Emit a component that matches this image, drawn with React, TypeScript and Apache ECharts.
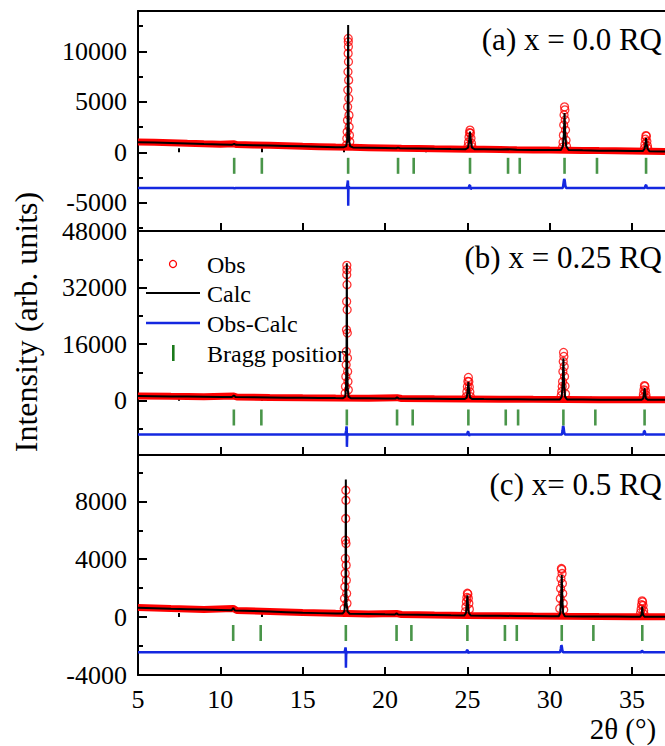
import React, { useEffect, useRef } from "react";
import * as echarts from "echarts";

// ---------- tick values ----------
const xMajorTicks = [5, 10, 15, 20, 25, 30, 35];
const xMinorTicks = [7.5, 12.5, 17.5, 22.5, 27.5, 32.5];
const yMajorA = [-5000, 0, 5000, 10000];
const yMinorA = [-7500, -2500, 2500, 7500, 12500];
const yMajorB = [0, 16000, 32000, 48000];
const yMinorB = [-8000, 8000, 24000, 40000];
const yMajorC = [-4000, 0, 4000, 8000];
const yMinorC = [-2000, 2000, 6000, 10000];

// ---------- panel labels ----------
const panelLabels = ["(a) x = 0.0 RQ", "(b) x = 0.25 RQ", "(c) x= 0.5 RQ"];
const legendNames = ["Obs", "Calc", "Obs-Calc", "Bragg position"];

// ---------- panel (a) x = 0.0 ----------
const obsBgA = [[5,1030],[6,990],[7,940],[8,885],[9,835],[10,790],[10.84,840],[11,760],[12,720],[13,685],[14,645],[15,600],[16,560],[17,520],[18,490],[19,460],[20,430],[21,400],[22,378],[23,350],[24,330],[25,310],[26,290],[27,270],[28,250],[29,235],[30,220],[31,208],[32,188],[33,165],[34,145],[35,125],[36,105],[37,85]];
const obsPkA = [[17.66,710],[17.68,1370],[17.70,2030],[17.72,3180],[17.73,4500],[17.74,6160],[17.75,7980],[17.76,9800],[17.765,11280],[17.77,10950],[17.775,10460],[17.78,8970],[17.79,7150],[17.80,5330],[17.81,3680],[17.82,2520],[17.84,1700],[17.86,1040],
  [25.04,600],[25.07,1000],[25.10,1500],[25.13,1950],[25.16,2200],[25.19,1900],[25.22,1400],[25.25,900],[25.28,550],
  [30.78,500],[30.81,1000],[30.83,1700],[30.85,2700],[30.87,3700],[30.90,4500],[30.92,4200],[30.94,3200],[30.96,2200],[30.99,1200],[31.02,600],
  [35.75,400],[35.78,800],[35.81,1300],[35.84,1650],[35.87,1600],[35.90,1100],[35.93,650],[35.96,350]];
const calcA = [[5,1000],[6,960],[7,910],[8,860],[9,810],[10,770],[10.7,740],[10.84,830],[10.95,735],[12,700],[13,670],[14,630],[15,590],[16,550],[17,510],[17.5,510],[17.64,600],[17.70,1100],[17.73,3000],[17.76,12600],[17.79,3000],[17.82,1100],[17.88,600],[18.05,480],[19,450],[20,420],[20.68,400],[20.79,460],[20.9,395],[22,370],[23,340],[24,320],[24.9,310],[25.04,450],[25.10,1000],[25.16,2050],[25.22,1000],[25.28,450],[25.45,300],[26,290],[27,270],[27.47,290],[28,250],[29,230],[30,220],[30.68,230],[30.80,600],[30.86,1800],[30.90,3900],[30.94,1800],[31.0,600],[31.15,220],[32,190],[33,160],[34,140],[35,120],[35.65,120],[35.76,350],[35.81,800],[35.85,1400],[35.89,800],[35.94,350],[36.05,110],[37,80]];
const diffA = [[5,-3530],[10.82,-3530],[10.86,-3620],[10.9,-3530],[17.68,-3530],[17.72,-3100],[17.745,-2800],[17.76,-3300],[17.765,-5300],[17.775,-3700],[17.80,-3400],[17.84,-3530],[25.08,-3530],[25.12,-3300],[25.16,-3250],[25.20,-3680],[25.24,-3530],[30.80,-3530],[30.85,-2900],[30.88,-2650],[30.91,-2750],[30.95,-3300],[30.99,-3530],[35.78,-3530],[35.82,-3280],[35.86,-3250],[35.90,-3530],[37,-3530]];
const braggA = [10.84, 12.52, 17.76, 20.79, 21.74, 25.16, 27.47, 28.18, 30.90, 32.87, 35.85];
const braggLevelA = -1340;

// ---------- panel (b) x = 0.25 ----------
const obsBgB = [[5,1400],[7,1280],[9,1170],[10.82,1350],[11,1080],[13,960],[15,870],[17,790],[19,720],[20.73,900],[21,660],[23,580],[25,530],[27,470],[29,420],[31,380],[33,340],[35,310],[37,290]];
const obsPkB = [[17.58,2170],[17.60,4050],[17.62,6890],[17.64,10190],[17.65,13950],[17.66,20090],[17.67,28100],[17.675,35660],[17.68,38290],[17.685,37070],[17.69,32830],[17.70,25750],[17.71,19150],[17.72,12080],[17.73,8300],[17.75,5470],[17.77,3110],
  [24.94,1200],[24.97,2600],[25.00,4000],[25.03,5500],[25.06,6600],[25.09,5400],[25.12,3900],[25.15,2500],[25.18,1200],
  [30.70,1500],[30.73,2630],[30.76,4050],[30.78,5460],[30.80,8290],[30.82,11120],[30.84,13670],[30.86,12540],[30.88,9710],[30.90,6880],[30.93,4200],[30.96,2000],
  [35.66,900],[35.69,1900],[35.72,3100],[35.75,4300],[35.78,4100],[35.81,2900],[35.84,1700],[35.87,800]];
const calcB = [[5,1350],[6,1300],[7,1250],[8,1200],[9,1150],[10,1100],[10.7,1080],[10.82,1500],[10.94,1060],[12,1000],[13,950],[14,900],[15,860],[16,820],[17,780],[17.45,770],[17.58,1200],[17.63,3500],[17.66,12000],[17.68,38900],[17.70,12000],[17.73,3500],[17.78,1200],[17.92,760],[19,710],[20,670],[20.62,650],[20.73,1000],[20.84,640],[22,600],[23,570],[24,540],[24.85,520],[24.96,900],[25.01,2500],[25.06,5400],[25.11,2500],[25.16,900],[25.3,520],[26,490],[27,460],[28,440],[29,410],[30,390],[30.62,380],[30.73,1200],[30.79,5000],[30.83,12000],[30.87,5000],[30.93,1200],[31.05,370],[32,350],[33,330],[34,310],[35,300],[35.58,300],[35.68,700],[35.72,1800],[35.76,3600],[35.80,1800],[35.84,700],[35.95,290],[37,280]];
const diffB = [[5,-9500],[17.60,-9500],[17.64,-8300],[17.66,-7200],[17.675,-7800],[17.685,-13000],[17.70,-10200],[17.73,-9300],[17.76,-9500],[24.98,-9500],[25.02,-8800],[25.06,-8700],[25.10,-9900],[25.14,-9500],[30.74,-9500],[30.78,-8400],[30.81,-7100],[30.84,-7400],[30.88,-8900],[30.92,-9500],[35.69,-9500],[35.73,-8500],[35.77,-8600],[35.81,-9500],[37,-9500]];
const braggB = [10.82, 12.49, 17.68, 20.73, 21.68, 25.06, 27.33, 28.08, 30.83, 32.77, 35.76];
const braggLevelB = -4700;

// ---------- panel (c) x = 0.5 ----------
const obsBgC = [[5,670],[7,590],[9,520],[10.78,600],[11,460],[13,390],[15,310],[17,260],[19,215],[20.70,250],[21,180],[23,145],[25,115],[27,92],[29,72],[31,56],[33,43],[35,32],[37,22]];
const obsPkC = [[17.52,600],[17.54,1290],[17.56,2090],[17.58,3020],[17.59,4050],[17.60,5310],[17.61,6810],[17.62,8760],[17.625,8070],[17.63,5080],[17.64,3590],[17.65,2550],[17.67,1630],[17.69,950],
  [24.88,370],[24.91,710],[24.94,1060],[24.97,1360],[25.0,1650],[25.03,1600],[25.06,1300],[25.09,950],[25.12,550],
  [30.61,600],[30.64,1290],[30.66,1980],[30.68,2670],[30.71,3360],[30.73,3300],[30.75,3010],[30.77,2320],[30.79,1630],[30.82,950],[30.85,500],
  [35.52,300],[35.55,550],[35.58,850],[35.61,1120],[35.64,1050],[35.67,800],[35.70,450],[35.73,200]];
const calcC = [[5,650],[6,620],[7,580],[8,550],[9,520],[10,490],[10.68,470],[10.78,620],[10.88,460],[12,420],[13,380],[14,340],[15,300],[16,275],[17,250],[17.42,245],[17.53,400],[17.58,1000],[17.60,2500],[17.62,9500],[17.64,2500],[17.66,1000],[17.72,400],[17.85,230],[19,210],[20,190],[20.6,180],[20.70,260],[20.8,175],[22,155],[23,140],[24,125],[24.82,115],[24.92,300],[24.96,750],[25.0,1500],[25.04,750],[25.08,300],[25.2,110],[26,100],[27,90],[28,80],[29,70],[30,60],[30.55,58],[30.65,300],[30.69,1200],[30.73,2900],[30.77,1200],[30.81,300],[30.92,55],[32,45],[33,40],[34,35],[35,30],[35.5,30],[35.57,150],[35.6,400],[35.62,720],[35.64,400],[35.67,150],[35.75,25],[37,20]];
const diffC = [[5,-2430],[17.54,-2430],[17.58,-2250],[17.60,-2100],[17.615,-2200],[17.625,-3500],[17.64,-2600],[17.67,-2380],[17.70,-2430],[24.93,-2430],[24.97,-2300],[25.01,-2280],[25.05,-2500],[25.09,-2430],[30.63,-2430],[30.67,-2200],[30.70,-1950],[30.73,-2000],[30.77,-2300],[30.81,-2430],[35.56,-2430],[35.60,-2300],[35.64,-2300],[35.68,-2430],[37,-2430]];
const braggC = [10.78, 12.45, 17.62, 20.70, 21.60, 25.0, 27.28, 28.0, 30.73, 32.65, 35.62];
const braggLevelC = -1100;

const FONT = "Liberation Serif, Times New Roman, serif";
const RED = "#ff0000";
const BLUE = "#1428e0";
const GREEN = "#1b7a1b";

export default function App() {
  const ref = useRef<HTMLDivElement>(null);
  useEffect(() => {
    if (!ref.current) return;
    const chart = echarts.init(ref.current, null, { renderer: "svg" });

    const panels = [
      { top: 11, height: 220, min: -7800, max: 14000, major: yMajorA, minor: yMinorA, obsBg: obsBgA, obsPk: obsPkA, calc: calcA, diff: diffA, bragg: braggA, level: braggLevelA },
      { top: 231, height: 224, min: -15300, max: 48000, major: yMajorB, minor: yMinorB, obsBg: obsBgB, obsPk: obsPkB, calc: calcB, diff: diffB, bragg: braggB, level: braggLevelB },
      { top: 455, height: 220, min: -4000, max: 11200, major: yMajorC, minor: yMinorC, obsBg: obsBgC, obsPk: obsPkC, calc: calcC, diff: diffC, bragg: braggC, level: braggLevelC },
    ];

    const grid: any[] = [];
    const xAxis: any[] = [];
    const yAxis: any[] = [];
    const series: any[] = [];
    const axisLineStyle = { color: "#000", width: 2 };
    const plain = (v: number) => String(v);

    panels.forEach((p, g) => {
      grid.push({ left: 138, top: p.top, width: 530, height: p.height, show: false });
      const xMajorIdx = xAxis.length;
      xAxis.push({
        type: "value", gridIndex: g, min: 5, max: 37, position: "bottom",
        axisLine: { show: true, onZero: false, lineStyle: axisLineStyle },
        axisTick: { show: true, inside: true, length: 8, lineStyle: { color: "#000", width: 2 }, customValues: xMajorTicks },
        axisLabel: { show: g === 2, customValues: xMajorTicks, formatter: plain, color: "#000", fontFamily: FONT, fontSize: 26, margin: 11 },
        splitLine: { show: false },
      });
      xAxis.push({
        type: "value", gridIndex: g, min: 5, max: 37, position: "bottom",
        axisLine: { show: false },
        axisTick: { show: true, inside: true, length: 4, lineStyle: { color: "#000", width: 2 }, customValues: xMinorTicks },
        axisLabel: { show: false },
        splitLine: { show: false },
      });
      if (g === 0) {
        xAxis.push({
          type: "value", gridIndex: g, min: 5, max: 37, position: "top",
          axisLine: { show: true, onZero: false, lineStyle: axisLineStyle },
          axisTick: { show: false }, axisLabel: { show: false }, splitLine: { show: false },
        });
      }
      const yMajorIdx = yAxis.length;
      yAxis.push({
        type: "value", gridIndex: g, min: p.min, max: p.max, position: "left",
        axisLine: { show: true, onZero: false, lineStyle: axisLineStyle },
        axisTick: { show: true, inside: true, length: 9, lineStyle: { color: "#000", width: 2 }, customValues: p.major },
        axisLabel: { show: true, customValues: p.major, formatter: plain, color: "#000", fontFamily: FONT, fontSize: 26, margin: 11, hideOverlap: false },
        splitLine: { show: false },
      });
      yAxis.push({
        type: "value", gridIndex: g, min: p.min, max: p.max, position: "left",
        axisLine: { show: false },
        axisTick: { show: true, inside: true, length: 5, lineStyle: { color: "#000", width: 2 }, customValues: p.minor },
        axisLabel: { show: false },
        splitLine: { show: false },
      });

      const common = { xAxisIndex: xMajorIdx, yAxisIndex: yMajorIdx, silent: true };
      series.push({ ...common, name: "Obs", type: "line", data: p.obsBg, showSymbol: false, lineStyle: { color: RED, width: 7 }, z: 2 });
      series.push({ ...common, name: "Obs", type: "scatter", data: p.obsPk, symbol: "circle", symbolSize: 8, itemStyle: { color: "transparent", borderColor: RED, borderWidth: 1.3 }, z: 3 });
      series.push({ ...common, name: "Calc", type: "line", data: p.calc, showSymbol: false, lineStyle: { color: "#000", width: 2 }, z: 4 });
      series.push({ ...common, name: "Obs-Calc", type: "line", data: p.diff, showSymbol: false, lineStyle: { color: BLUE, width: 2.5 }, z: 4 });
      series.push({ ...common, name: "Bragg position", type: "scatter", data: p.bragg.map((x) => [x, p.level]), symbol: "rect", symbolSize: [2.6, 16], itemStyle: { color: GREEN }, z: 4 });
    });

    const txt = (text: string, x: number, y: number, size: number, align: string, extra: any = {}) => ({
      type: "text", x, y, ...extra,
      style: { text, fill: "#000", fontFamily: FONT, fontSize: size, textAlign: align, align, textVerticalAlign: "middle", verticalAlign: "middle" },
      z: 10,
    });

    const graphic: any[] = [
      txt(panelLabels[0], 662, 39, 31, "right"),
      txt(panelLabels[1], 662, 257, 31, "right"),
      txt(panelLabels[2], 662, 484, 31, "right"),
      txt("Intensity (arb. units)", 26, 322, 32, "center", { rotation: Math.PI / 2 }),
      txt("2θ (°)", 623, 729, 29, "center"),
      { type: "circle", shape: { cx: 173, cy: 264, r: 3.5 }, style: { fill: "none", stroke: RED, lineWidth: 1.3 }, z: 10 },
      { type: "line", shape: { x1: 146, y1: 293, x2: 200, y2: 293 }, style: { stroke: "#000", lineWidth: 2 }, z: 10 },
      { type: "line", shape: { x1: 146, y1: 323, x2: 200, y2: 323 }, style: { stroke: BLUE, lineWidth: 2.5 }, z: 10 },
      { type: "rect", shape: { x: 172, y: 345, width: 2.6, height: 16 }, style: { fill: GREEN }, z: 10 },
      txt(legendNames[0], 207, 265, 24, "left"),
      txt(legendNames[1], 207, 294, 24, "left"),
      txt(legendNames[2], 207, 324, 24, "left"),
      txt(legendNames[3], 207, 354, 24, "left"),
    ];

    chart.setOption({ animation: false, backgroundColor: "#fff", grid, xAxis, yAxis, series, graphic });
    return () => chart.dispose();
  }, []);

  return <div ref={ref} style={{ width: 665, height: 746, position: "absolute", left: 0, top: 0 }} />;
}
